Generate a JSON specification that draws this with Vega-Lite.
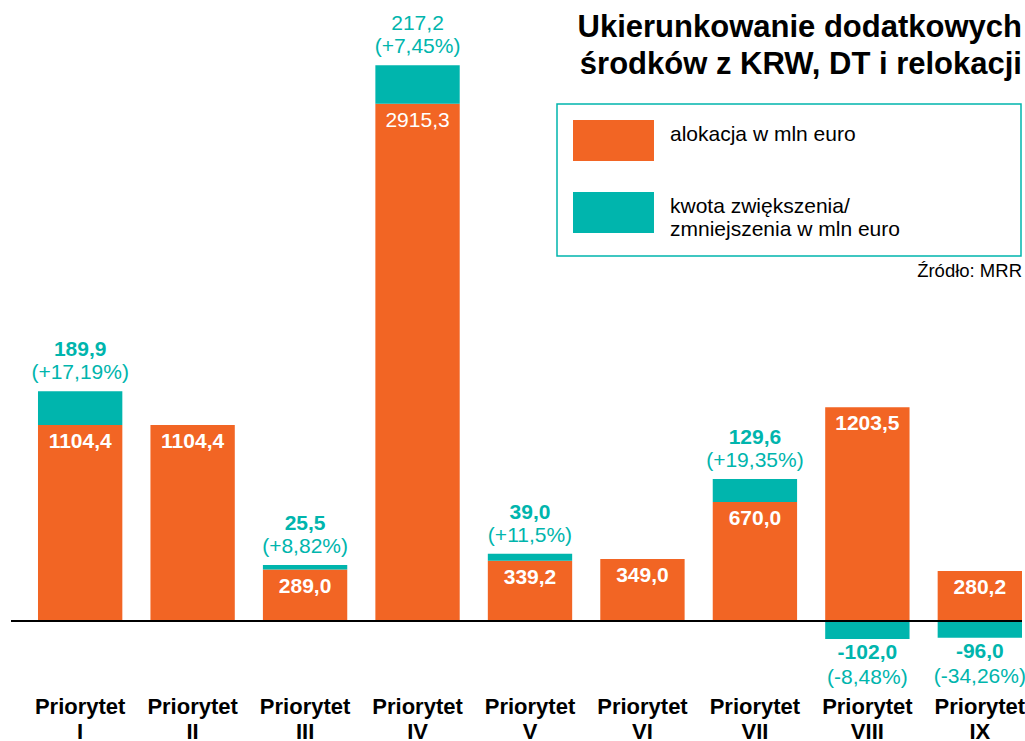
{
  "$schema": "https://vega.github.io/schema/vega-lite/v6.json",
  "autosize": "none",
  "width": 1011,
  "height": 690,
  "padding": {"left": 11, "top": 0, "right": 3, "bottom": 51},
  "background": "white",
  "config": {
    "view": {"stroke": null},
    "font": "Liberation Sans",
    "legend": {"strokeColor": "#00B5AD", "strokeWidth": 1.5},
    "locale": {"number": {"decimal": ",", "thousands": "", "grouping": [3], "currency": ["", ""], "minus": "-"}}
  },
  "title": {
    "text": ["Ukierunkowanie dodatkowych", "środków z KRW, DT i relokacji"],
    "subtitle": "Źródło: MRR",
    "anchor": "end",
    "frame": "group",
    "orient": "top",
    "font": "Liberation Sans",
    "fontSize": 31,
    "fontWeight": "bold",
    "color": "#000000",
    "lineHeight": 37,
    "subtitleFont": "Liberation Sans",
    "subtitleFontSize": 18.5,
    "subtitleColor": "#000000",
    "subtitlePadding": 181,
    "offset": -281
  },
  "data": {
    "values": [
      {"p": "I", "series": "alokacja", "value": 1104.4},
      {"p": "I", "series": "kwota", "value": 189.9, "pct": "(+17,19%)"},
      {"p": "II", "series": "alokacja", "value": 1104.4},
      {"p": "III", "series": "alokacja", "value": 289.0},
      {"p": "III", "series": "kwota", "value": 25.5, "pct": "(+8,82%)"},
      {"p": "IV", "series": "alokacja", "value": 2915.3},
      {"p": "IV", "series": "kwota", "value": 217.2, "pct": "(+7,45%)"},
      {"p": "V", "series": "alokacja", "value": 339.2},
      {"p": "V", "series": "kwota", "value": 39.0, "pct": "(+11,5%)"},
      {"p": "VI", "series": "alokacja", "value": 349.0},
      {"p": "VII", "series": "alokacja", "value": 670.0},
      {"p": "VII", "series": "kwota", "value": 129.6, "pct": "(+19,35%)"},
      {"p": "VIII", "series": "alokacja", "value": 1203.5},
      {"p": "VIII", "series": "kwota", "value": -102.0, "pct": "(-8,48%)"},
      {"p": "IX", "series": "alokacja", "value": 280.2},
      {"p": "IX", "series": "kwota", "value": -96.0, "pct": "(-34,26%)"}
    ]
  },
  "transform": [
    {"stack": "value", "groupby": ["p"], "sort": [{"field": "series", "order": "ascending"}], "as": ["v0", "v1"]}
  ],
  "encoding": {
    "x": {
      "field": "p",
      "type": "nominal",
      "sort": ["I", "II", "III", "IV", "V", "VI", "VII", "VIII", "IX"],
      "scale": {"paddingInner": 0.25, "paddingOuter": 0.12, "align": 1},
      "axis": {
        "title": null,
        "domain": false,
        "ticks": false,
        "labelAngle": 0,
        "labelExpr": "['Priorytet', datum.value]",
        "labelFont": "Liberation Sans",
        "labelFontSize": 22,
        "labelFontWeight": "bold",
        "labelColor": "#000000",
        "labelLineHeight": 25,
        "labelPadding": 6
      }
    }
  },
  "layer": [
    {
      "mark": {"type": "bar"},
      "encoding": {
        "y": {"field": "v1", "type": "quantitative", "scale": {"domain": [-390, 3500], "nice": false, "zero": false}, "axis": null},
        "y2": {"field": "v0"},
        "color": {
          "field": "series",
          "type": "nominal",
          "scale": {"domain": ["alokacja", "kwota"], "range": ["#F26524", "#00B5AD"]},
          "legend": {
            "orient": "none",
            "legendX": 546,
            "legendY": 104,
            "title": null,
            "padding": 16,
            "strokeColor": "#00B5AD",
            "symbolType": "M-1,-1H2.951V1H-1Z",
            "symbolSize": 1681,
            "symbolStrokeWidth": 0,
            "symbolOpacity": 1,
            "labelFont": "Liberation Sans",
            "labelFontSize": 21,
            "labelColor": "#000000",
            "labelOffset": 56,
            "labelLimit": 600,
            "labelLineHeight": 25,
            "labelBaseline": "alphabetic",
            "rowPadding": 31,
            "labelExpr": "datum.value === 'alokacja' ? 'alokacja w mln euro' : ['kwota zwiększenia/', 'zmniejszenia w mln euro\u00a0\u00a0\u00a0\u00a0\u00a0\u00a0\u00a0\u00a0\u00a0\u00a0\u00a0\u00a0\u00a0\u00a0\u00a0\u00a0\u00a0\u00a0\u200b']"
          }
        }
      }
    },
    {
      "mark": {"type": "rule", "color": "#000000", "strokeWidth": 1.5},
      "encoding": {"y": {"datum": 0, "type": "quantitative"}, "x": null}
    },
    {
      "transform": [{"filter": "datum.series === 'alokacja' && datum.p !== 'IV'"}],
      "mark": {"type": "text", "color": "#FFFFFF", "fontSize": 21, "fontWeight": "bold", "baseline": "alphabetic", "dy": 23},
      "encoding": {"y": {"field": "v1", "type": "quantitative"}, "text": {"field": "value", "type": "quantitative", "format": ".1f"}}
    },
    {
      "transform": [{"filter": "datum.series === 'alokacja' && datum.p === 'IV'"}],
      "mark": {"type": "text", "color": "#FFFFFF", "fontSize": 21, "fontWeight": "normal", "baseline": "alphabetic", "dy": 23},
      "encoding": {"y": {"field": "v1", "type": "quantitative"}, "text": {"field": "value", "type": "quantitative", "format": ".1f"}}
    },
    {
      "transform": [{"filter": "datum.series === 'kwota' && datum.value > 0 && datum.p !== 'IV'"}],
      "mark": {"type": "text", "color": "#00B5AD", "fontSize": 21, "fontWeight": "bold", "baseline": "alphabetic", "dy": -35},
      "encoding": {"y": {"field": "v1", "type": "quantitative"}, "text": {"field": "value", "type": "quantitative", "format": ".1f"}}
    },
    {
      "transform": [{"filter": "datum.series === 'kwota' && datum.p === 'IV'"}],
      "mark": {"type": "text", "color": "#00B5AD", "fontSize": 21, "fontWeight": "normal", "baseline": "alphabetic", "dy": -35},
      "encoding": {"y": {"field": "v1", "type": "quantitative"}, "text": {"field": "value", "type": "quantitative", "format": ".1f"}}
    },
    {
      "transform": [{"filter": "datum.series === 'kwota' && datum.value > 0"}],
      "mark": {"type": "text", "color": "#00B5AD", "fontSize": 21, "fontWeight": "normal", "baseline": "alphabetic", "dy": -12},
      "encoding": {"y": {"field": "v1", "type": "quantitative"}, "text": {"field": "pct", "type": "nominal"}}
    },
    {
      "transform": [{"filter": "datum.series === 'kwota' && datum.value < 0"}],
      "mark": {"type": "text", "color": "#00B5AD", "fontSize": 21, "fontWeight": "bold", "baseline": "alphabetic", "dy": 20},
      "encoding": {"y": {"field": "v1", "type": "quantitative"}, "text": {"field": "value", "type": "quantitative", "format": ".1f"}}
    },
    {
      "transform": [{"filter": "datum.series === 'kwota' && datum.value < 0"}],
      "mark": {"type": "text", "color": "#00B5AD", "fontSize": 21, "fontWeight": "normal", "baseline": "alphabetic", "dy": 45},
      "encoding": {"y": {"field": "v1", "type": "quantitative"}, "text": {"field": "pct", "type": "nominal"}}
    }
  ]
}
